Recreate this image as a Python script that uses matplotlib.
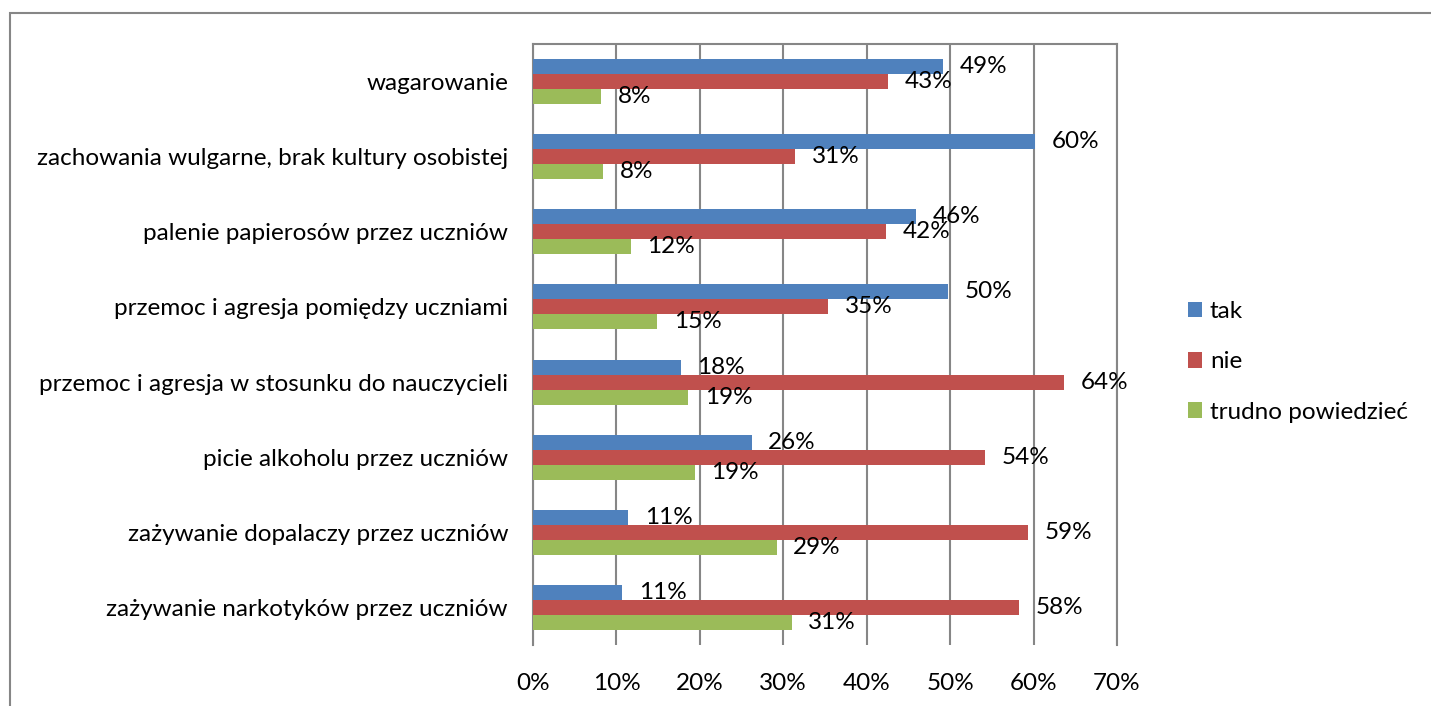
import numpy as np
import matplotlib.pyplot as plt
from matplotlib.patches import Rectangle

# data (percent)
categories = ['wagarowanie',
              'zachowania wulgarne, brak kultury osobistej',
              'palenie papierosów przez uczniów',
              'przemoc i agresja pomiędzy uczniami',
              'przemoc i agresja w stosunku do nauczycieli',
              'picie alkoholu przez uczniów',
              'zażywanie dopalaczy przez uczniów',
              'zażywanie narkotyków przez uczniów']
tak = [49.2, 60.2, 45.9, 49.8, 17.7, 26.2, 11.4, 10.7]
nie = [42.6, 31.4, 42.3, 35.4, 63.6, 54.2, 59.3, 58.3]
trudno = [8.2, 8.4, 11.7, 14.9, 18.6, 19.4, 29.2, 31.0]
series_names = ['tak', 'nie', 'trudno powiedzieć']
colors = ['#4F81BD', '#C0504D', '#9BBB59']
xticks = [0, 10, 20, 30, 40, 50, 60, 70]

plt.rcParams['font.family'] = ['Lato', 'DejaVu Sans']
fs = 17.5

fig = plt.figure(figsize=(14.31, 7.06), dpi=100)
ax = fig.add_axes([533 / 1431, 1 - 645 / 706, (1117 - 533) / 1431, (645 - 44) / 706])

# outer chart border
fig.patches.append(Rectangle((10 / 1431, -0.1), 1.2, 1.1 - 13 / 706,
                             transform=fig.transFigure, fill=False,
                             edgecolor='#868686', linewidth=1.5, clip_on=False))

y = np.arange(len(categories))
h = 0.2
for i, (vals, name, c) in enumerate(zip([tak, nie, trudno], series_names, colors)):
    pos = y + (i - 1) * h
    ax.barh(pos, vals, height=h, color=c, label=name, zorder=3)
    for p, v in zip(pos, vals):
        ax.annotate('%d%%' % round(v), (v, p), xytext=(12, 0), textcoords='offset points',
                    va='center', ha='left', fontsize=fs, zorder=4)

ax.set_xlim(0, 70)
ax.set_ylim(len(categories) - 0.5, -0.5)
ax.set_xticks(xticks)
ax.set_xticklabels(['%d%%' % t for t in xticks], fontsize=fs)
ax.set_yticks(y)
ax.set_yticklabels(categories, fontsize=fs)
ax.tick_params(axis='x', length=0, pad=20)
ax.tick_params(axis='y', length=0, pad=18)
ax.grid(axis='x', color='#868686', linewidth=1.5, zorder=0)
for s in ['top', 'left', 'right']:
    ax.spines[s].set_color('#868686')
    ax.spines[s].set_linewidth(1.5)
ax.spines['bottom'].set_visible(False)

fig.legend(loc='center left', bbox_to_anchor=(1166 / 1431, 1 - 362 / 706), frameon=False,
           fontsize=fs, handlelength=0.6, handleheight=0.6, handletextpad=0.3,
           labelspacing=1.2)

fig.savefig('out.png', dpi=100)
